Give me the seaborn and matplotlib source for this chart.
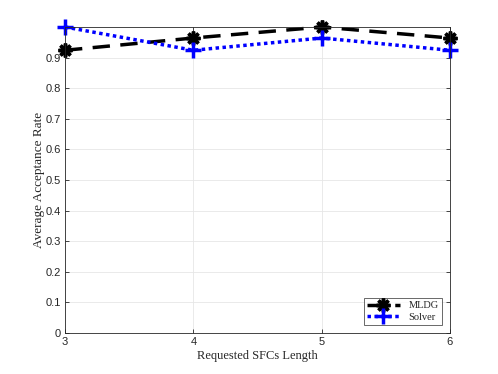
import matplotlib
matplotlib.use("Agg")
import matplotlib.pyplot as plt
import seaborn as sns
import pandas as pd

lengths = [3, 4, 5, 6]
mldg = [0.924, 0.964, 1.0, 0.964]
solver = [1.0, 0.924, 0.964, 0.924]

df = pd.DataFrame({
    "Length": lengths * 2,
    "Rate": mldg + solver,
    "Method": ["MLDG"] * 4 + ["Solver"] * 4,
})

sns.set_theme(style="white")
fig = plt.figure(figsize=(4.98, 3.74), dpi=100)
ax = fig.add_axes([0.1305, 0.1096, 0.7731, 0.8182])

sub = df[df.Method == "MLDG"]
sns.lineplot(data=sub, x="Length", y="Rate", ax=ax, color="black", lw=2.5,
             linestyle=(0, (5, 3)), marker=(8, 2, 0), markersize=10,
             markeredgewidth=2.5, markeredgecolor="black", label="MLDG", clip_on=False)
sub = df[df.Method == "Solver"]
sns.lineplot(data=sub, x="Length", y="Rate", ax=ax, color="blue", lw=2.5,
             linestyle=(0, (1, 1)), marker="+", markersize=11,
             markeredgewidth=2.5, markeredgecolor="blue", label="Solver", clip_on=False)

ax.set_xlim(3, 6)
ax.set_ylim(0, 1)
ax.set_xticks([3, 4, 5, 6])
ax.set_yticks([0, 0.1, 0.2, 0.3, 0.4, 0.5, 0.6, 0.7, 0.8, 0.9])
ax.set_yticklabels(["0", "0.1", "0.2", "0.3", "0.4", "0.5", "0.6", "0.7", "0.8", "0.9"])
ax.grid(True, color="#e6e6e6", lw=0.6)
for s in ax.spines.values():
    s.set_visible(True)
    s.set_color("#262626")
    s.set_linewidth(0.6)
ax.tick_params(direction="in", length=3, width=0.6, colors="#262626",
               labelsize=8, left=True, bottom=True, top=True, right=True, pad=3)
for lab in ax.get_xticklabels() + ax.get_yticklabels():
    lab.set_family("Liberation Sans")
ax.set_xlabel("Requested SFCs Length", family="Liberation Serif", fontsize=9, color="#262626", labelpad=2)
ax.set_ylabel("Average Acceptance Rate", family="Liberation Serif", fontsize=9.5, color="#262626", labelpad=0)
leg = ax.legend(loc="lower right", prop={"family": "Liberation Serif", "size": 7.5},
                frameon=True, fancybox=False, edgecolor="#262626", handlelength=3.2,
                borderaxespad=0.8, borderpad=0.3, labelspacing=0.2)
leg.get_frame().set_linewidth(0.6)
fig.savefig("out.png", dpi=100)
